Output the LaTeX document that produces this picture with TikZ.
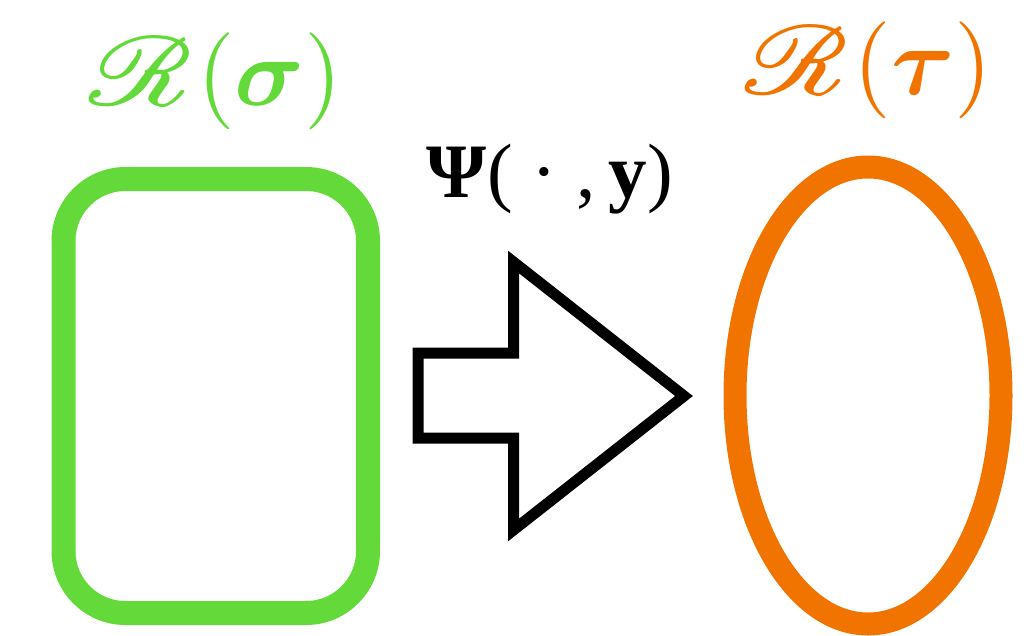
\documentclass[tikz,border=0pt]{standalone}
\usepackage{fontspec}
\usepackage{amsmath,amssymb}
\usepackage{mathrsfs}
\usepackage{bm}
\usepackage{graphicx}
\usepackage{tikz}
\usetikzlibrary{positioning}
\usepackage{xcolor}
\definecolor{setGreen}{HTML}{63D93A}
\definecolor{setOrange}{HTML}{F17400}
\newfontfamily\timesfont{Liberation Serif}
\newcommand{\regionR}{\scalebox{2}{$\scriptscriptstyle\mathscr{R}$}}

\begin{document}
\begin{tikzpicture}[x=1pt,y=-1pt]
\useasboundingbox (0,0) rectangle (1035,635);
% domain box and image oval
\draw[setGreen, line width=24pt, rounded corners=62pt] (63.5,179) rectangle (368,613);
\draw[setOrange, line width=23pt] (868,395.5) ellipse [x radius=133, y radius=228.5];
% block arrow
\draw[line width=11pt] (418,353) -- (513.5,353) -- (513.5,262) -- (684,396)
  -- (513.5,530) -- (513.5,438) -- (418,438) -- cycle;
% labels
\node[setGreen, inner sep=0, anchor=base] (rsigma) at (213,105.5)
  {\scalebox{9.7}{$\regionR(\bm{\sigma})$}};
\node[setOrange, inner sep=0, anchor=base] (rtau) at (866,94)
  {\scalebox{9.7}{$\regionR(\bm{\tau})$}};
\node[inner sep=0, anchor=base, font=\timesfont\fontsize{77}{84}\selectfont] (psi) at (550,197)
  {\textbf{Ψ}(\ ·\ ,\,\textbf{y})};
\end{tikzpicture}
\end{document}
